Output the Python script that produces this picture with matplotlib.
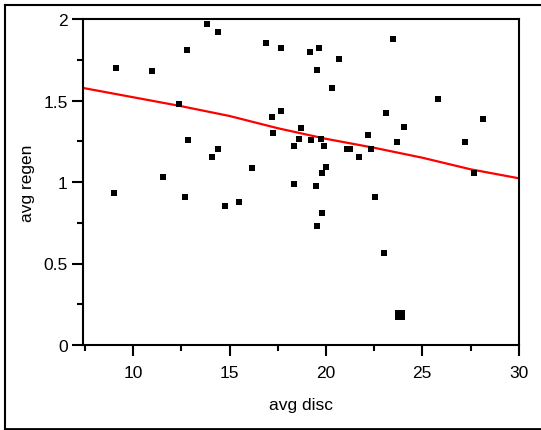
import matplotlib.pyplot as plt
from matplotlib.lines import Line2D
from matplotlib.ticker import MultipleLocator

plt.rcParams["font.family"] = ["Liberation Sans", "DejaVu Sans"]

# scatter values
avg_disc = [9.11, 10.99, 13.81, 14.38, 12.77, 12.39, 12.86, 14.38, 14.08, 11.55,
            9.02, 12.68, 14.76, 15.5, 16.16, 16.9, 17.19, 17.28, 17.66, 17.66,
            19.16, 19.63, 20.66, 19.54, 20.29, 23.48, 25.83, 23.1, 28.16, 18.7,
            24.05, 22.17, 18.61, 19.25, 19.73, 19.9, 18.32, 23.67, 27.23, 21.11,
            21.23, 22.36, 21.7, 20.0, 19.82, 27.7, 18.32, 19.46, 22.55, 19.82,
            19.54, 23.0]
avg_regen = [1.70, 1.68, 1.967, 1.92, 1.81, 1.479, 1.256, 1.20, 1.155, 1.033,
             0.934, 0.91, 0.855, 0.879, 1.088, 1.855, 1.40, 1.30, 1.822, 1.434,
             1.80, 1.822, 1.757, 1.689, 1.579, 1.879, 1.511, 1.421, 1.387, 1.333,
             1.335, 1.288, 1.266, 1.256, 1.266, 1.223, 1.223, 1.245, 1.245, 1.20,
             1.20, 1.20, 1.155, 1.09, 1.055, 1.055, 0.99, 0.977, 0.91, 0.812,
             0.732, 0.566]
# the one larger point
big_disc = [23.86]
big_regen = [0.186]

# smooth fit line
fit_x = [7.4, 10, 12.5, 15, 17.5, 20, 22.5, 25, 27.5, 30]
fit_y = [1.577, 1.52, 1.465, 1.405, 1.33, 1.265, 1.21, 1.149, 1.078, 1.023]

fig = plt.figure(figsize=(5.41, 4.31), dpi=100)
ax = fig.add_axes([83 / 541, 85 / 431, 435.7 / 541, 326 / 431])

ax.plot(fit_x, fit_y, color="#ff0000", lw=1.6, zorder=2)
ax.scatter(avg_disc, avg_regen, marker="s", s=14, color="black", lw=0, zorder=3)
ax.scatter(big_disc, big_regen, marker="s", s=45, color="black", lw=0, zorder=3)

ax.set_xlim(7.4, 30)
ax.set_ylim(0, 2)
ax.xaxis.set_minor_locator(MultipleLocator(2.5))
ax.yaxis.set_minor_locator(MultipleLocator(0.25))
ax.set_xticks([10, 15, 20, 25, 30], ["10", "15", "20", "25", "30"])
ax.set_yticks([0, 0.5, 1, 1.5, 2], ["0", "0.5", "1", "1.5", "2"])

for s in ax.spines.values():
    s.set_linewidth(1.5)
ax.tick_params(which="major", direction="out", length=8, width=1.5,
               labelsize=12.5, pad=3)
ax.tick_params(which="minor", direction="out", length=4.3, width=1.5)
ax.tick_params(axis="x", which="major", pad=6.5)

ax.set_xlabel("avg disc", fontsize=12.5, labelpad=12)
ax.set_ylabel("avg regen", fontsize=12.5, labelpad=6)

# outer frame (right side runs off the image)
fig.add_artist(Line2D([4.5 / 541, 1.0], [1 - 5.5 / 431] * 2, color="black", lw=1.5))
fig.add_artist(Line2D([4.5 / 541] * 2, [1 - 5.5 / 431, 1.5 / 431], color="black", lw=1.5))
fig.add_artist(Line2D([4.5 / 541, 1.0], [1.5 / 431] * 2, color="black", lw=2))

fig.savefig("out.png", dpi=100)
plt.close(fig)
